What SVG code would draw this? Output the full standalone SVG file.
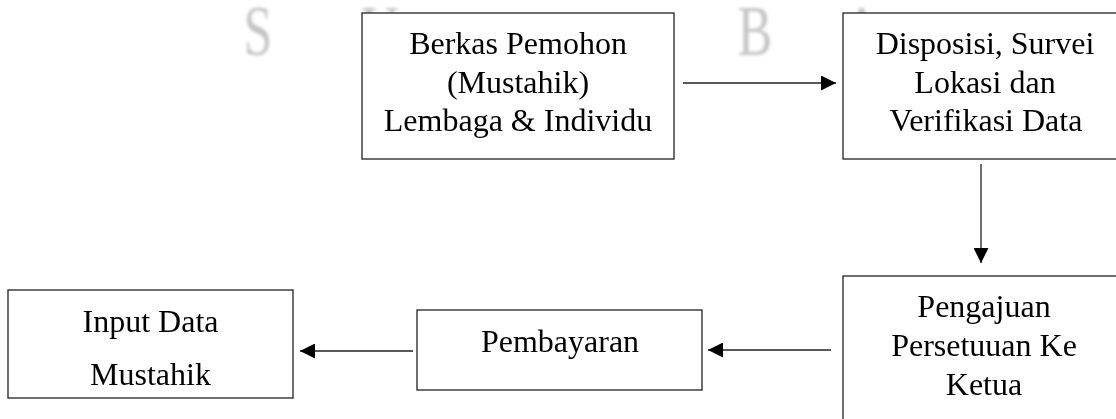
<svg xmlns="http://www.w3.org/2000/svg" width="1116" height="419" viewBox="0 0 1116 419">
  <style>
    .box { fill: #ffffff; stroke: #222222; stroke-width: 1.3; }
    .lbl { font-family: "Liberation Serif", "Times New Roman", serif; font-size: 32px; fill: #000000; text-anchor: middle; }
    .wm { font-family: "Liberation Serif", "Times New Roman", serif; font-size: 72px; fill: #c6c6c6; text-anchor: middle; }
    .conn { stroke: #222222; stroke-width: 1.3; fill: none; marker-end: url(#arrow); }
  </style>
  <defs>
    <marker id="arrow" viewBox="0 0 15 15" refX="15" refY="7.5" markerWidth="15" markerHeight="15" markerUnits="userSpaceOnUse" orient="auto">
      <path d="M0,0 L15,7.5 L0,15 Z" fill="#000000"/>
    </marker>
    <filter id="blur" x="-20%" y="-20%" width="140%" height="140%">
      <feGaussianBlur stdDeviation="1.6"/>
    </filter>
  </defs>
  <rect width="1116" height="419" fill="#ffffff"/>

  <g id="watermark" filter="url(#blur)">
    <text class="wm" transform="translate(258,55) scale(0.72,1)">S</text>
    <text class="wm" transform="translate(380,55) scale(0.72,1)">U</text>
    <text class="wm" transform="translate(755,55) scale(0.72,1)">B</text>
    <text class="wm" transform="translate(862,55) scale(0.72,1)">A</text>
  </g>

  <g id="connectors">
    <line class="conn" x1="683" y1="83" x2="836" y2="83"/>
    <line class="conn" x1="981" y1="164" x2="981" y2="263"/>
    <line class="conn" x1="831" y1="350" x2="708" y2="350"/>
    <line class="conn" x1="413" y1="351" x2="300" y2="351"/>
  </g>

  <g id="node-berkas">
    <rect class="box" x="362" y="13" width="312" height="146"/>
    <text class="lbl" x="518" y="54">Berkas Pemohon</text>
    <text class="lbl" x="518" y="93">(Mustahik)</text>
    <text class="lbl" x="518" y="131">Lembaga &amp; Individu</text>
  </g>

  <g id="node-disposisi">
    <rect class="box" x="843" y="13" width="300" height="146"/>
    <text class="lbl" x="985" y="54">Disposisi, Survei</text>
    <text class="lbl" x="985" y="93">Lokasi dan</text>
    <text class="lbl" x="986" y="131">Verifikasi Data</text>
  </g>

  <g id="node-pengajuan">
    <rect class="box" x="843" y="276" width="300" height="200"/>
    <text class="lbl" x="984" y="317">Pengajuan</text>
    <text class="lbl" x="984" y="356">Persetuuan Ke</text>
    <text class="lbl" x="984" y="395">Ketua</text>
  </g>

  <g id="node-pembayaran">
    <rect class="box" x="417" y="310" width="285" height="80"/>
    <text class="lbl" x="560" y="352">Pembayaran</text>
  </g>

  <g id="node-input">
    <rect class="box" x="8" y="290" width="285" height="108"/>
    <text class="lbl" x="150.5" y="332">Input Data</text>
    <text class="lbl" x="150.5" y="385">Mustahik</text>
  </g>
</svg>
